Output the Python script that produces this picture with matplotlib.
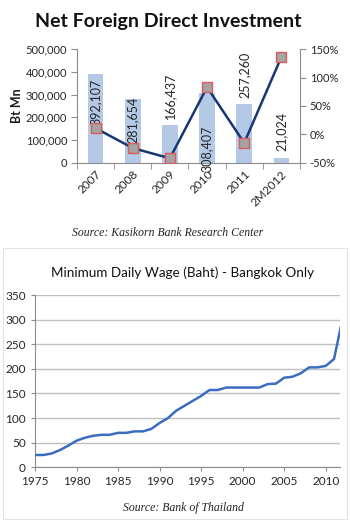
import matplotlib
matplotlib.use("Agg")
import matplotlib.pyplot as plt
from matplotlib.patches import Rectangle
from matplotlib.ticker import FuncFormatter, MultipleLocator

plt.rcParams["font.family"] = ["Lato", "DejaVu Sans"]

# --- FDI chart data
fdi_cats = ["2007", "2008", "2009", "2010", "2011", "2M2012"]
fdi_values = [392107, 281654, 166437, 308407, 257260, 21024]
fdi_growth = [11, -24, -42, 83, -15, 136]          # % change, right axis
# label centre relative to bar top (or to the axis when 'base'), pixels up
label_base = [False, False, False, True, False, False]
label_dy = [-28, -21, 29, 14, 29, 27]

# --- minimum wage data
years = list(range(1975, 2013))
wage = [25, 25, 28, 35, 44, 54, 60, 64, 66, 66, 70, 70, 73, 73, 78, 90,
        100, 115, 125, 135, 145, 157, 157, 162, 162, 162, 162, 162, 169, 170,
        182, 184, 191, 203, 203, 206, 220, 300]

TXT = "#262626"
AX = "#8c8c8c"

fig = plt.figure(figsize=(3.5, 5.22), dpi=100)

# ================= top chart
ax1 = fig.add_axes([0.22, 0.688, 0.637, 0.218])
x = list(range(len(fdi_cats)))
ax1.bar(x, fdi_values, width=0.42, color="#b4c9e6", zorder=1)
ax1.set_xlim(-0.5, len(fdi_cats) - 0.5)
ax1.set_ylim(0, 500000)
ax1.yaxis.set_major_locator(MultipleLocator(100000))
ax1.yaxis.set_major_formatter(FuncFormatter(lambda v, p: f"{int(v):,}"))
ax1.set_xticks(x)
ax1.set_xticklabels(fdi_cats, rotation=45, ha="right", rotation_mode="anchor")
ax1.set_xticks([i + 0.5 for i in range(-1, len(fdi_cats))], minor=True)
ax1.tick_params(axis="x", which="major", length=0, pad=4, labelsize=8.5, labelcolor=TXT)
ax1.tick_params(axis="x", which="minor", length=4, color=AX)
ax1.tick_params(axis="y", length=4, color=AX, labelsize=8, labelcolor=TXT, pad=3)
for s in ["top", "right"]:
    ax1.spines[s].set_visible(False)
for s in ["left", "bottom"]:
    ax1.spines[s].set_color(AX)
ax1.set_ylabel("Bt Mn", fontsize=9, fontweight="bold", color="#1a1a1a", labelpad=2)

px = 500000 / (0.218 * 522)   # data units per pixel
for i, v in enumerate(fdi_values):
    y0 = (0 if label_base[i] else v) + label_dy[i] * px
    ax1.text(i, y0, f"{v:,}", rotation=90, ha="center", va="center",
             fontsize=9, color=TXT, zorder=5, clip_on=False)

ax2 = ax1.twinx()
ax2.plot(x, fdi_growth, color="#17376e", lw=1.8, marker="s", markersize=7,
         markerfacecolor="#a4a4a4", markeredgecolor="#dc5a5a", markeredgewidth=1, zorder=4)
ax2.set_ylim(-50, 150)
ax2.yaxis.set_major_locator(MultipleLocator(50))
ax2.yaxis.set_major_formatter(FuncFormatter(lambda v, p: f"{int(v)}%"))
ax2.tick_params(axis="y", length=4, color=AX, labelsize=8, labelcolor=TXT, pad=3)
for s in ["top", "left", "bottom"]:
    ax2.spines[s].set_visible(False)
ax2.spines["right"].set_color(AX)

fig.text(0.48, 0.958, "Net Foreign Direct Investment", ha="center", va="center",
         fontsize=14, fontweight="bold", color="#111111")
fig.text(0.48, 0.553, "Source: Kasikorn Bank Research Center", ha="center", va="center",
         fontsize=8.5, style="italic", family="Liberation Serif", color="#222222")

# faint frame around second chart
fig.patches.append(Rectangle((3 / 350, 0.005), 344 / 350, (522 - 248) / 522 - 0.005,
                             transform=fig.transFigure, fill=False, ec="#e4e4e4", lw=0.8))

# ================= bottom chart
ax3 = fig.add_axes([0.1, 0.1048, 0.871, 0.330])
ax3.plot(years, wage, color="#3a6cc0", lw=1.8, zorder=3)
ax3.set_xlim(1975, 2011.7)
ax3.set_ylim(0, 350)
ax3.yaxis.set_major_locator(MultipleLocator(50))
ax3.set_xticks(range(1975, 2011, 5))
ax3.grid(axis="y", color="#c0c0c0", lw=1)
ax3.set_axisbelow(True)
ax3.tick_params(axis="both", length=3, color=AX, labelsize=8.5, labelcolor=TXT)
for s in ["top", "right"]:
    ax3.spines[s].set_visible(False)
for s in ["left", "bottom"]:
    ax3.spines[s].set_color(AX)

fig.text(0.523, 0.477, "Minimum Daily Wage (Baht) - Bangkok Only", ha="center", va="center",
         fontsize=9.7, color="#111111")
fig.text(0.523, 0.027, "Source: Bank of Thailand", ha="center", va="center",
         fontsize=8.5, style="italic", family="Liberation Serif", color="#222222")

fig.savefig("out.png", dpi=100)
